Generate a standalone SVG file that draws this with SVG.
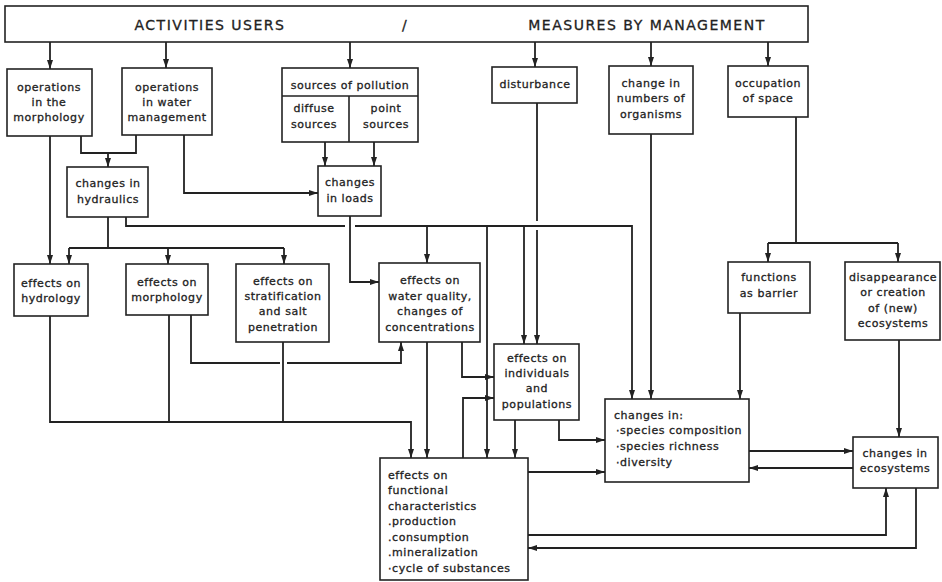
<svg xmlns="http://www.w3.org/2000/svg" width="942" height="582" viewBox="0 0 942 582">
<style>
.box{fill:#fff;stroke:#222;stroke-width:1.6}
.t{font-family:"DejaVu Sans",sans-serif;font-size:11px;fill:#222;stroke:#222;stroke-width:0.3;text-anchor:middle;letter-spacing:0.55px}
.l{text-anchor:start}
.h{font-family:"DejaVu Sans",sans-serif;font-size:14px;fill:#222;stroke:#222;stroke-width:0.3;text-anchor:middle;letter-spacing:1.5px}
.c{fill:none;stroke:#222;stroke-width:1.8}
.a{marker-end:url(#ah)}
</style>
<defs>
<marker id="ah" markerUnits="userSpaceOnUse" markerWidth="9" markerHeight="7" refX="9" refY="3" orient="auto">
<path d="M0,0 L9,3 L0,6 z" fill="#222"/>
</marker>
</defs>
<g id="connectors">
<path class="c a" d="M50,42 V69"/>
<path class="c a" d="M166,42 V68"/>
<path class="c a" d="M350,42 V68"/>
<path class="c a" d="M535,42 V67"/>
<path class="c a" d="M651,42 V66"/>
<path class="c a" d="M768,42 V66"/>
<path class="c a" d="M50,136 V264"/>
<path class="c" d="M81,136 V153 H136 V135"/>
<path class="c a" d="M108,153 V167"/>
<path class="c a" d="M184,135 V193 H318"/>
<path class="c a" d="M325,142 V166"/>
<path class="c a" d="M374,142 V166"/>
<path class="c" d="M108,217 V248 M69,248 H284"/>
<path class="c a" d="M69,248 V264"/>
<path class="c a" d="M168,248 V264"/>
<path class="c a" d="M284,248 V264"/>
<path class="c" d="M126,217 V226 H345"/>
<path class="c a" d="M355,226 H632 V399"/>
<path class="c a" d="M427,226 V263"/>
<path class="c a" d="M487,226 V458"/>
<path class="c a" d="M524,226 V344"/>
<path class="c a" d="M350,216 V282 H379"/>
<path class="c" d="M537,103 V221"/>
<path class="c a" d="M537,230 V344"/>
<path class="c a" d="M651,134 V399"/>
<path class="c" d="M796,117 V243 M768,243 H898"/>
<path class="c a" d="M768,243 V262"/>
<path class="c a" d="M898,243 V262"/>
<path class="c a" d="M740,313 V399"/>
<path class="c a" d="M899,340 V437"/>
<path class="c a" d="M50,316 V422 H411 V458"/>
<path class="c" d="M169,315 V422"/>
<path class="c" d="M191,315 V363 H280"/>
<path class="c a" d="M287,363 H401 V342"/>
<path class="c" d="M283,342 V422"/>
<path class="c a" d="M427,342 V458"/>
<path class="c a" d="M462,342 V377 H494"/>
<path class="c a" d="M463,458 V398 H494"/>
<path class="c a" d="M515,420 V458"/>
<path class="c a" d="M559,420 V440 H605"/>
<path class="c a" d="M528,472 H605"/>
<path class="c a" d="M749,451 H853"/>
<path class="c a" d="M853,468 H749"/>
<path class="c a" d="M528,535 H886 V488"/>
<path class="c a" d="M916,488 V548 H528"/>
</g>
<g id="header">
<rect class="box" x="5" y="6" width="803" height="36"/>
<text class="h" x="210" y="30">ACTIVITIES USERS</text>
<text class="h" x="405" y="30">/</text>
<text class="h" x="647" y="30">MEASURES BY MANAGEMENT</text>
</g>
<g id="ops-morphology">
<rect class="box" x="7" y="69" width="85" height="67"/>
<text class="t" x="49" y="91">operations</text>
<text class="t" x="49" y="106">in the</text>
<text class="t" x="49" y="121">morphology</text>
</g>
<g id="ops-water">
<rect class="box" x="122" y="68" width="90" height="67"/>
<text class="t" x="167" y="91">operations</text>
<text class="t" x="167" y="106">in water</text>
<text class="t" x="167" y="121">management</text>
</g>
<g id="sources">
<rect class="box" x="282" y="68" width="136" height="74"/>
<path d="M282,96 H418 M349,96 V142" fill="none" stroke="#222" stroke-width="1.6"/>
<text class="t" x="350" y="89">sources of pollution</text>
<text class="t" x="314" y="112">diffuse</text>
<text class="t" x="314" y="128">sources</text>
<text class="t" x="386" y="112">point</text>
<text class="t" x="386" y="128">sources</text>
</g>
<g id="disturbance">
<rect class="box" x="492" y="67" width="85" height="36"/>
<text class="t" x="535" y="88">disturbance</text>
</g>
<g id="numbers">
<rect class="box" x="609" y="66" width="84" height="68"/>
<text class="t" x="651" y="87">change in</text>
<text class="t" x="651" y="102">numbers of</text>
<text class="t" x="651" y="118">organisms</text>
</g>
<g id="occupation">
<rect class="box" x="728" y="66" width="80" height="51"/>
<text class="t" x="768" y="87">occupation</text>
<text class="t" x="768" y="102">of space</text>
</g>
<g id="hydraulics">
<rect class="box" x="67" y="167" width="81" height="50"/>
<text class="t" x="108" y="187">changes in</text>
<text class="t" x="108" y="203">hydraulics</text>
</g>
<g id="loads">
<rect class="box" x="318" y="166" width="63" height="50"/>
<text class="t" x="350" y="186">changes</text>
<text class="t" x="350" y="202">in loads</text>
</g>
<g id="hydrology">
<rect class="box" x="14" y="264" width="74" height="52"/>
<text class="t" x="51" y="287">effects on</text>
<text class="t" x="51" y="302">hydrology</text>
</g>
<g id="morphology">
<rect class="box" x="126" y="264" width="82" height="51"/>
<text class="t" x="167" y="286">effects on</text>
<text class="t" x="167" y="301">morphology</text>
</g>
<g id="stratification">
<rect class="box" x="236" y="264" width="93" height="78"/>
<text class="t" x="283" y="285">effects on</text>
<text class="t" x="283" y="300">stratification</text>
<text class="t" x="283" y="315">and salt</text>
<text class="t" x="283" y="331">penetration</text>
</g>
<g id="water-quality">
<rect class="box" x="379" y="263" width="101" height="79"/>
<text class="t" x="430" y="284">effects on</text>
<text class="t" x="430" y="300">water quality,</text>
<text class="t" x="430" y="315">changes of</text>
<text class="t" x="430" y="331">concentrations</text>
</g>
<g id="barrier">
<rect class="box" x="728" y="262" width="82" height="51"/>
<text class="t" x="769" y="281">functions</text>
<text class="t" x="769" y="297">as barrier</text>
</g>
<g id="disappearance">
<rect class="box" x="845" y="262" width="95" height="78"/>
<text class="t" x="893" y="281">disappearance</text>
<text class="t" x="893" y="296">or creation</text>
<text class="t" x="893" y="312">of (new)</text>
<text class="t" x="893" y="327">ecosystems</text>
</g>
<g id="individuals">
<rect class="box" x="494" y="344" width="85" height="76"/>
<text class="t" x="537" y="362">effects on</text>
<text class="t" x="537" y="377">individuals</text>
<text class="t" x="537" y="392">and</text>
<text class="t" x="537" y="408">populations</text>
</g>
<g id="species">
<rect class="box" x="605" y="399" width="144" height="83"/>
<text class="t l" x="614" y="419">changes in:</text>
<text class="t l" x="616" y="434">·species composition</text>
<text class="t l" x="616" y="450">·species richness</text>
<text class="t l" x="616" y="466">·diversity</text>
</g>
<g id="ecosystems">
<rect class="box" x="853" y="437" width="85" height="51"/>
<text class="t" x="895" y="457">changes in</text>
<text class="t" x="895" y="472">ecosystems</text>
</g>
<g id="functional">
<rect class="box" x="380" y="458" width="148" height="122"/>
<text class="t l" x="388" y="479">effects on</text>
<text class="t l" x="388" y="494">functional</text>
<text class="t l" x="388" y="510">characteristics</text>
<text class="t l" x="388" y="525">.production</text>
<text class="t l" x="388" y="541">.consumption</text>
<text class="t l" x="388" y="556">.mineralization</text>
<text class="t l" x="388" y="572">·cycle of substances</text>
</g>
</svg>
